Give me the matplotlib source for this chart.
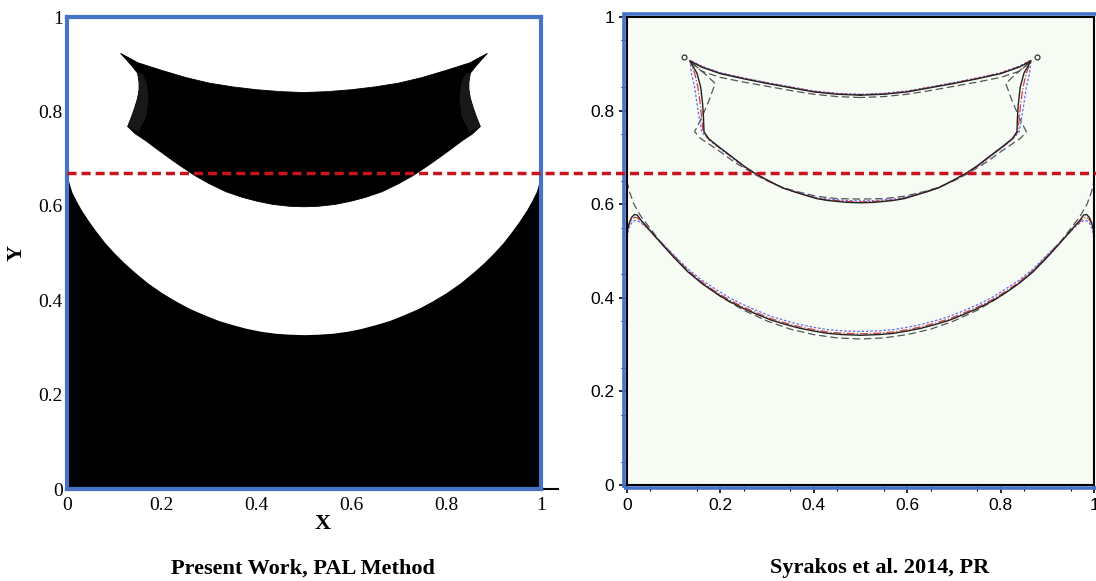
import numpy as np
import matplotlib
matplotlib.use("Agg")
import matplotlib.pyplot as plt
from matplotlib.lines import Line2D
from matplotlib.patches import Rectangle
from matplotlib.transforms import blended_transform_factory

# ---- left panel: PAL method (left half of each interface, mirrored about x=0.5)
pal_low_x = [0, 0.004, 0.01, 0.02, 0.03, 0.045, 0.06, 0.08, 0.1, 0.12, 0.14, 0.17, 0.2,
             0.23, 0.26, 0.29, 0.32, 0.35, 0.38, 0.41, 0.44, 0.47, 0.5]
pal_low_y = [0.670, 0.650, 0.630, 0.610, 0.592, 0.569, 0.548, 0.522, 0.500, 0.480, 0.462,
             0.437, 0.416, 0.398, 0.382, 0.369, 0.357, 0.348, 0.340, 0.334, 0.330, 0.328, 0.327]

# upper drop: top centre -> tip -> side -> bottom centre
pal_up_x = [0.5, 0.45, 0.4, 0.35, 0.3, 0.25, 0.2, 0.15, 0.113, 0.125, 0.138, 0.149,
            0.152, 0.152, 0.149, 0.143, 0.136, 0.128, 0.145, 0.166, 0.19, 0.216, 0.24,
            0.27, 0.30, 0.335, 0.37, 0.40, 0.434, 0.47, 0.5]
pal_up_y = [0.840, 0.842, 0.846, 0.852, 0.860, 0.872, 0.887, 0.903, 0.923, 0.910, 0.895,
            0.881, 0.862, 0.846, 0.828, 0.808, 0.788, 0.768, 0.752, 0.738, 0.720, 0.701,
            0.684, 0.664, 0.647, 0.630, 0.618, 0.610, 0.603, 0.599, 0.598]

# faint grey band along the side of the drop
pal_shade_x = [0.149, 0.152, 0.152, 0.149, 0.143, 0.136, 0.128, 0.15, 0.168, 0.172,
               0.168, 0.16]
pal_shade_y = [0.881, 0.862, 0.846, 0.828, 0.808, 0.788, 0.768, 0.756, 0.790, 0.830,
               0.860, 0.880]

# ---- right panel: Syrakos et al. 2014 contours
syr_low_x = [0, 0.005, 0.01, 0.016, 0.022, 0.03, 0.04, 0.052, 0.065, 0.08, 0.1, 0.13,
             0.16, 0.18, 0.2, 0.22, 0.25, 0.28, 0.31, 0.34, 0.37, 0.4, 0.43, 0.46, 0.5]
syr_low_solid = [0.540, 0.560, 0.572, 0.578, 0.577, 0.566, 0.555, 0.541, 0.526, 0.509,
                 0.487, 0.456, 0.431, 0.417, 0.404, 0.392, 0.377, 0.364, 0.352, 0.343,
                 0.335, 0.329, 0.324, 0.3215, 0.320]
syr_low_red = [0.545, 0.558, 0.567, 0.572, 0.571, 0.563, 0.553, 0.540, 0.526, 0.510,
               0.489, 0.458, 0.434, 0.420, 0.407, 0.395, 0.380, 0.367, 0.355, 0.346,
               0.338, 0.332, 0.327, 0.3245, 0.323]
syr_low_blue = [0.530, 0.550, 0.560, 0.565, 0.565, 0.560, 0.552, 0.540, 0.527, 0.512,
                0.492, 0.462, 0.438, 0.425, 0.412, 0.400, 0.385, 0.372, 0.360, 0.351,
                0.343, 0.337, 0.332, 0.3295, 0.328]
syr_low_dash_x = [0, 0.005, 0.015, 0.03, 0.05, 0.07, 0.1, 0.13, 0.16, 0.2, 0.25, 0.3,
                  0.35, 0.4, 0.45, 0.5]
syr_low_dash = [0.650, 0.628, 0.600, 0.574, 0.548, 0.522, 0.490, 0.459, 0.433, 0.403,
                0.3735, 0.3505, 0.333, 0.3214, 0.3143, 0.312]

syr_up_x = [0.5, 0.45, 0.4, 0.35, 0.3, 0.25, 0.2, 0.16, 0.135, 0.15, 0.158, 0.162, 0.164,
            0.165, 0.175, 0.195, 0.228, 0.25, 0.271, 0.3, 0.333, 0.36, 0.406, 0.43, 0.47, 0.5]
syr_up_solid = [0.833, 0.835, 0.840, 0.849, 0.858, 0.868, 0.879, 0.893, 0.906, 0.880,
                0.850, 0.815, 0.784, 0.755, 0.740, 0.724, 0.699, 0.682, 0.668, 0.652,
                0.635, 0.626, 0.612, 0.608, 0.604, 0.603]
syr_up_red_x = [0.5, 0.45, 0.4, 0.35, 0.3, 0.25, 0.2, 0.16, 0.135, 0.145, 0.152, 0.157,
                0.160, 0.163, 0.175, 0.195, 0.228, 0.25, 0.271, 0.3, 0.333, 0.36, 0.406,
                0.43, 0.47, 0.5]
syr_up_red = [0.834, 0.836, 0.841, 0.850, 0.859, 0.869, 0.880, 0.894, 0.907, 0.880, 0.850,
              0.815, 0.784, 0.755, 0.739, 0.723, 0.698, 0.681, 0.667, 0.651, 0.635, 0.626,
              0.613, 0.609, 0.606, 0.605]
syr_up_blue_x = [0.5, 0.45, 0.4, 0.35, 0.3, 0.25, 0.2, 0.16, 0.135, 0.138, 0.145, 0.150,
                 0.155, 0.160, 0.175, 0.195, 0.228, 0.25, 0.271, 0.3, 0.333, 0.36, 0.406,
                 0.43, 0.47, 0.5]
syr_up_blue = [0.835, 0.837, 0.842, 0.851, 0.860, 0.870, 0.881, 0.895, 0.908, 0.880,
               0.850, 0.815, 0.784, 0.755, 0.738, 0.722, 0.697, 0.680, 0.666, 0.651,
               0.635, 0.627, 0.614, 0.611, 0.608, 0.607]
syr_up_dash_x = [0.5, 0.45, 0.4, 0.35, 0.3, 0.25, 0.2, 0.16, 0.135, 0.16, 0.189, 0.175,
                 0.16, 0.145, 0.157, 0.178, 0.2, 0.23, 0.25, 0.271, 0.3, 0.333, 0.36,
                 0.406, 0.45, 0.5]
syr_up_dash = [0.828, 0.830, 0.835, 0.843, 0.852, 0.861, 0.871, 0.884, 0.905, 0.885,
               0.858, 0.820, 0.785, 0.755, 0.741, 0.727, 0.712, 0.690, 0.678, 0.665,
               0.650, 0.636, 0.628, 0.617, 0.612, 0.611]
tip_x = [0.122, 0.878]
tip_y = [0.915, 0.915]

ticks = [0, 0.2, 0.4, 0.6, 0.8, 1.0]
tick_labels = ["0", "0.2", "0.4", "0.6", "0.8", "1"]
interface_y = 0.67

BLUE = "#4673c8"
RED = "#c8141e"


def mirror(x, y):
    x = np.asarray(x, dtype=float)
    y = np.asarray(y, dtype=float)
    return np.concatenate([x, 1 - x[::-1][1:]]), np.concatenate([y, y[::-1][1:]])


fig = plt.figure(figsize=(10.96, 5.81), dpi=100)
ax1 = fig.add_axes([0.0611, 0.1583, 0.4325, 0.8124])
ax2 = fig.add_axes([0.572, 0.1652, 0.4262, 0.8055])

# ---- left panel
serif = "Liberation Serif"
lx, ly = mirror(pal_low_x, pal_low_y)
ax1.fill_between(lx, 0, ly, color="black", lw=0)
ux, uy = mirror(pal_up_x, pal_up_y)
ax1.fill(ux, uy, color="black", lw=0.6, ec="black")
sx = np.asarray(pal_shade_x)
ax1.fill(sx, pal_shade_y, color="#181818", lw=0)
ax1.fill(1 - sx, pal_shade_y, color="#181818", lw=0)
ax1.set_xlim(0, 1)
ax1.set_ylim(0, 1)
ax1.set_xticks(ticks)
ax1.set_yticks(ticks)
ax1.set_xticklabels(tick_labels, family=serif, fontsize=14)
ax1.set_yticklabels(tick_labels, family=serif, fontsize=14)
ax1.tick_params(axis="x", length=0, pad=6)
ax1.tick_params(axis="y", length=0, pad=3)
for s in ax1.spines.values():
    s.set_color(BLUE)
    s.set_linewidth(3)
ax1.set_xlabel("X", family=serif, fontsize=16, fontweight="bold")
ax1.xaxis.set_label_coords(0.54, -0.052)
ax1.set_ylabel("Y", family=serif, fontsize=16, fontweight="bold")
ax1.yaxis.set_label_coords(-0.085, 0.5)
ax1.plot([1.0, 1.035], [0, 0], transform=ax1.transAxes, color="black", lw=1.5, clip_on=False)
ax1.text(0.497, -0.168, "Present Work, PAL Method", transform=ax1.transAxes, ha="center",
         va="center", family=serif, fontsize=16, fontweight="bold")

# ---- right panel
sans = "Liberation Sans"
ax2.set_facecolor("#f6fbf4")
styles = [
    ("#555555", (0, (6, 3)), 0.9),
    ("#6a6af0", (0, (2, 1.5)), 0.9),
    ("#d04040", "-.", 0.9),
    ("#222222", "-", 1.0),
]
lower = [(syr_low_dash_x, syr_low_dash), (syr_low_x, syr_low_blue),
         (syr_low_x, syr_low_red), (syr_low_x, syr_low_solid)]
upper = [(syr_up_dash_x, syr_up_dash), (syr_up_blue_x, syr_up_blue),
         (syr_up_red_x, syr_up_red), (syr_up_x, syr_up_solid)]
for (c, ls, lw), (x0, y0), (x1, y1) in zip(styles, lower, upper):
    ax2.plot(*mirror(x0, y0), color=c, ls=ls, lw=lw)
    ax2.plot(*mirror(x1, y1), color=c, ls=ls, lw=lw)
ax2.plot(tip_x, tip_y, "o", mfc="none", mec="#333333", ms=3.5, mew=0.9)
ax2.set_xlim(0, 1)
ax2.set_ylim(0, 1)
ax2.set_xticks(ticks)
ax2.set_yticks(ticks)
ax2.set_xticklabels(tick_labels, family=sans, fontsize=12.5)
ax2.set_yticklabels(tick_labels, family=sans, fontsize=12.5)
ax2.set_xticks(np.arange(0.05, 1.0, 0.1), minor=True)
ax2.set_yticks(np.arange(0.05, 1.0, 0.1), minor=True)
ax2.tick_params(which="major", length=6, width=1.2, direction="out", pad=3)
ax2.tick_params(which="minor", length=4, width=0.8, direction="out")
for s in ax2.spines.values():
    s.set_color("black")
    s.set_linewidth(1.5)
d = 0.0055
ax2.add_patch(Rectangle((-d, -d), 1.03, 1 + 2 * d, transform=ax2.transAxes,
                        fill=False, edgecolor=BLUE, lw=2.6, clip_on=False, zorder=5))
ax2.text(0.542, -0.178, "Syrakos et al. 2014, PR", transform=ax2.transAxes, ha="center",
         va="center", family=serif, fontsize=16, fontweight="bold")

# ---- red dashed reference level across both panels
tr = blended_transform_factory(fig.transFigure, ax1.transData)
fig.add_artist(Line2D([0.0611, 1.0], [interface_y, interface_y], transform=tr,
                      color=RED, lw=2.5, ls=(0, (2.6, 1.45)), zorder=10))

fig.savefig("out.png", dpi=100)
